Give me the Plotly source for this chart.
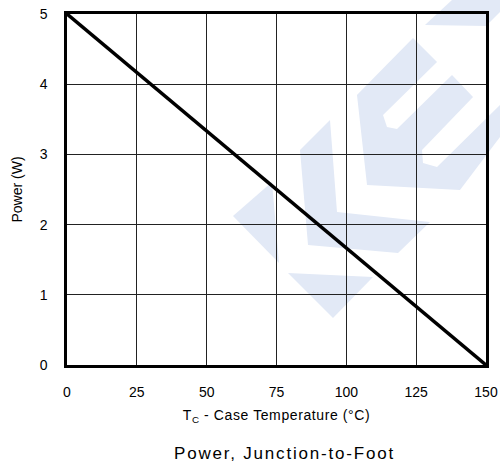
import plotly.graph_objects as go

# Derating curve: power vs. case temperature
case_temp_c = [0, 150]
power_w = [5, 0]

x_ticks = [0, 25, 50, 75, 100, 125, 150]
y_ticks = [0, 1, 2, 3, 4, 5]

W, H = 500, 467
ML, MR, MT, MB = 67, 14, 14, 102
PW, PH = W - ML - MR, H - MT - MB

FONT = "Liberation Sans, Arial, sans-serif"
WM_COLOR = "rgb(226,233,246)"

# Background logo outline, given in page pixels
logo_polys = [
    [(233, 216), (272, 182), (279, 263)],
    [(300, 150), (330, 120), (337, 212), (430, 222), (398, 253), (308, 245)],
    [(288, 273), (373, 277), (333, 318)],
    [(357, 95), (413, 38), (437, 62), (383, 115), (387, 127), (397, 129),
     (452, 75), (473, 97), (422, 150), (423, 163), (437, 167), (500, 105),
     (500, 137), (460, 190), (367, 185)],
    [(425, 25), (452, 0), (500, 0), (500, 12), (486, 26)],
]


def to_paper(px, py):
    return (px - ML) / PW, (H - MB - py) / PH


shapes = []
for poly in logo_polys:
    pts = [to_paper(x, y) for x, y in poly]
    path = "M " + " L ".join(f"{x:.4f},{y:.4f}" for x, y in pts) + " Z"
    shapes.append(dict(type="path", path=path, xref="paper", yref="paper",
                       fillcolor=WM_COLOR, line=dict(width=0), layer="below"))

fig = go.Figure()
fig.add_trace(go.Scatter(
    x=case_temp_c, y=power_w, mode="lines",
    line=dict(color="black", width=3.5), showlegend=False,
))

axis_common = dict(
    showline=True, mirror=True, linecolor="black", linewidth=2.5,
    showgrid=True, gridcolor="#222", gridwidth=1, zeroline=False,
    ticks="", tickfont=dict(family=FONT, size=14, color="black"),
    automargin=False,
)

title_x, title_y = to_paper(284, 453)

fig.update_layout(
    width=W, height=H,
    margin=dict(l=ML, r=MR, t=MT, b=MB, autoexpand=False),
    paper_bgcolor="white", plot_bgcolor="rgba(0,0,0,0)",
    shapes=shapes,
    xaxis=dict(range=[0, 150], tickvals=x_ticks, **axis_common,
               ticklabelstandoff=12,
               title=dict(text='<span style="letter-spacing:0.6px">'
                               'T<sub>C</sub> - Case Temperature (°C)</span>',
                          font=dict(family=FONT, size=14, color="black"),
                          standoff=12)),
    yaxis=dict(range=[0, 5], tickvals=y_ticks, **axis_common,
               ticklabelstandoff=14,
               title=dict(text="Power (W)",
                          font=dict(family=FONT, size=14, color="black"),
                          standoff=14)),
    annotations=[dict(
        text='<span style="letter-spacing:1.8px">Power, Junction-to-Foot</span>',
        xref="paper", yref="paper",
        x=title_x, y=title_y, xanchor="center", yanchor="middle",
        showarrow=False, font=dict(family=FONT, size=17, color="black"),
    )],
)

fig.write_html("out.html")
